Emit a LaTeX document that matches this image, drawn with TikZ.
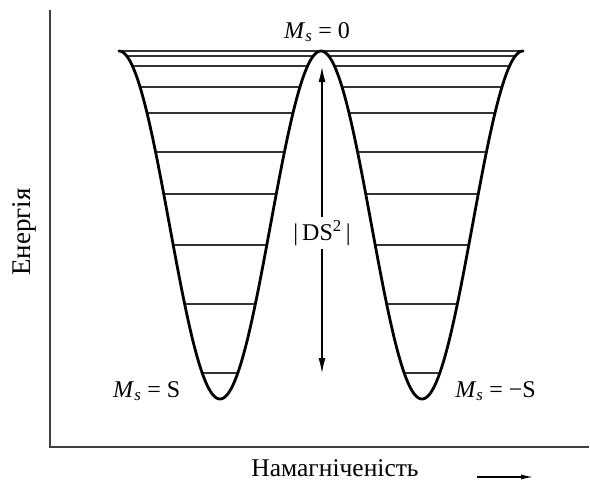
\documentclass[tikz,border=0pt]{standalone}
\usepackage{fontspec}
\setmainfont{Liberation Serif}
\usetikzlibrary{arrows.meta}
\begin{document}
\begin{tikzpicture}[x=1pt,y=-1pt,
  well/.style={line width=2.8pt, line join=round, line cap=round},
  level/.style={line width=1.2pt, draw=black!80},
  axis/.style={line width=1.2pt, draw=black!75},
  lbl/.style={font=\fontsize{24}{28}\selectfont, inner sep=0pt},
  biglbl/.style={font=\fontsize{27}{32}\selectfont, inner sep=0pt},
  tip/.style={-{Latex[length=15pt,width=7pt]}, line width=1.1pt}]
\useasboundingbox (0,0) rectangle (590,483);
% axes
\coordinate (otop) at (50,10);
\coordinate (orig) at (50,447);
\coordinate (oright) at (589,447);
\draw[axis] (otop) -- (orig) -- (oright);
% energy levels
\coordinate (topL) at (118,51);
\coordinate (topR) at (524,51);
\draw[level] (topL) -- (topR);
\foreach \yy in {56,66,87,113,152,194,245,304,373} {
  \pgfmathsetmacro\hw{acos((\yy-225)/174)/180*101}
  \draw[level] ({220-\hw},\yy) -- ({220+\hw},\yy);
  \draw[level] ({422-\hw},\yy) -- ({422+\hw},\yy);
}
% double well
\draw[well] plot[domain=119:321, samples=150] (\x,{225+174*cos((\x-220)/101*180)})
  -- plot[domain=321:523, samples=150] (\x,{225+174*cos((\x-422)/101*180)});
% barrier arrow
\coordinate (atop) at (322,67);
\coordinate (abot) at (322,373);
\node[lbl, inner sep=3pt] (ds) at (322,233) {|\,DS\textsuperscript{2}\,|};
\draw[tip] (ds.north) -- (atop);
\draw[tip] (ds.south) -- (abot);
% labels
\node[lbl, anchor=base] (m0) at (317,38) {\textit{M}\textsubscript{\textit{s}} = 0};
\node[lbl, anchor=base west] (mS) at (113,397) {\textit{M}\textsubscript{\textit{s}} = S};
\node[lbl, anchor=base east] (mmS) at (536,397) {\textit{M}\textsubscript{\textit{s}} = −S};
\node[biglbl, rotate=90] (en) at (24,232) {Енергія};
\node[lbl, font=\fontsize{25.5}{30}\selectfont, anchor=base] (mag) at (335,476) {Намагніченість};
\coordinate (mA) at (477,477);
\coordinate (mB) at (533,477);
\draw[-{Latex[length=12pt,width=5pt]}, line width=1.1pt] (mA) -- (mB);
\end{tikzpicture}
\end{document}
